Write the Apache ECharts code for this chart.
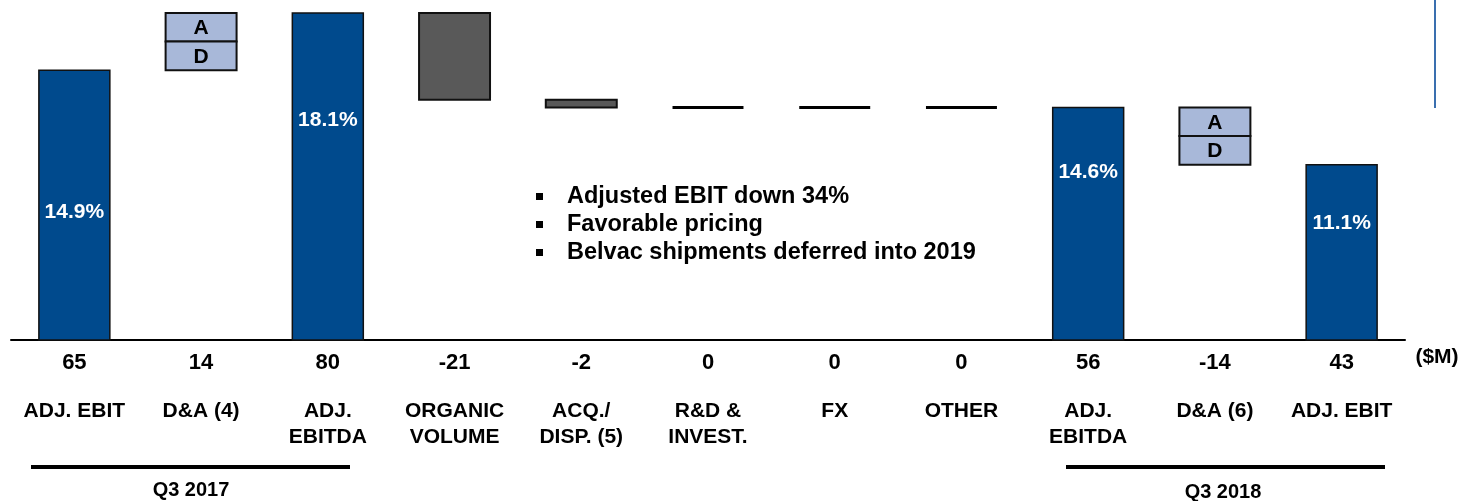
<!DOCTYPE html>
<html>
<head>
<meta charset="utf-8">
<script src="https://cdn.jsdelivr.net/npm/echarts@6/dist/echarts.min.js"></script>
<style>
  html, body { margin: 0; padding: 0; background: #fff; }
  #chart { width: 1463px; height: 501px; }
</style>
</head>
<body>
<div id="chart"></div>
<script>
// categories on the x axis
const categories = ['ADJ. EBIT', 'D&A (4)', 'ADJ.\nEBITDA', 'ORGANIC\nVOLUME', 'ACQ./\nDISP. (5)',
  'R&D &\nINVEST.', 'FX', 'OTHER', 'ADJ.\nEBITDA', 'D&A (6)', 'ADJ. EBIT'];
// printed values under the axis ($M)
const valueLabels = ['65', '14', '80', '-21', '-2', '0', '0', '0', '56', '-14', '43'];
// bar kind: total bars, A/D boxes, step changes
const kinds = ['total', 'ad', 'total', 'step', 'step', 'step', 'step', 'step', 'total', 'ad', 'total'];
// bar sizes as drawn in the picture (steps are deltas, totals are levels)
const barValues = [66, 14, 80, -21.2, -1.9, 0, 0, 0, 56.9, -14, 42.9];
// margin labels inside the total bars
const pctLabels = ['14.9%', '', '18.1%', '', '', '', '', '', '14.6%', '', '11.1%'];
const bullets = ['Adjusted EBIT down 34%', 'Favorable pricing', 'Belvac shipments deferred into 2019'];

// 从各段数值推出每根柱子的上下沿
const lows = [];
const highs = [];
let running = 0;
barValues.forEach((v, i) => {
  if (kinds[i] === 'total') {
    lows.push(0);
    highs.push(v);
    running = v;
  } else {
    const next = running + v;
    lows.push(Math.min(running, next));
    highs.push(Math.max(running, next));
    running = next;
  }
});
const seriesData = categories.map((c, i) => [i, lows[i], highs[i]]);

// pixel offsets of the % labels below each bar top
const pctOffset = [142, 0, 107, 0, 0, 0, 0, 0, 65, 0, 59];

const FONT = "'Liberation Sans', Arial, sans-serif";
const BLUE = '#004A8D';
const GREY = '#595959';
const LIGHT = '#A8B8D9';

function renderItem(params, api) {
  const i = api.value(0);
  const lo = api.coord([i, api.value(1)]);
  const hi = api.coord([i, api.value(2)]);
  const w = api.size([1, 0])[0] * 0.56;
  const x = lo[0] - w / 2;
  const kind = kinds[i];
  const children = [];

  if (kind === 'total') {
    children.push({
      type: 'rect',
      shape: { x: x, y: hi[1], width: w, height: lo[1] - hi[1] },
      style: { fill: BLUE, stroke: '#111', lineWidth: 1.5 }
    });
    children.push({
      type: 'text',
      style: {
        text: pctLabels[i], x: lo[0], y: hi[1] + pctOffset[i],
        fill: '#fff', font: 'bold 21px ' + FONT, align: 'center', verticalAlign: 'middle'
      }
    });
  } else if (kind === 'ad') {
    const mid = (lo[1] + hi[1]) / 2;
    children.push({
      type: 'rect',
      shape: { x: x, y: hi[1], width: w, height: mid - hi[1] },
      style: { fill: LIGHT, stroke: '#111', lineWidth: 2 }
    });
    children.push({
      type: 'rect',
      shape: { x: x, y: mid, width: w, height: lo[1] - mid },
      style: { fill: LIGHT, stroke: '#111', lineWidth: 2 }
    });
    children.push({
      type: 'text',
      style: { text: 'A', x: lo[0], y: (hi[1] + mid) / 2 + 1, fill: '#000', font: 'bold 21px ' + FONT, align: 'center', verticalAlign: 'middle' }
    });
    children.push({
      type: 'text',
      style: { text: 'D', x: lo[0], y: (mid + lo[1]) / 2 + 1, fill: '#000', font: 'bold 21px ' + FONT, align: 'center', verticalAlign: 'middle' }
    });
  } else if (lo[1] - hi[1] < 1) {
    // 零值：画一条黑线
    children.push({
      type: 'line',
      shape: { x1: x, y1: hi[1], x2: x + w, y2: hi[1] },
      style: { stroke: '#000', lineWidth: 3 }
    });
  } else {
    children.push({
      type: 'rect',
      shape: { x: x, y: hi[1], width: w, height: lo[1] - hi[1] },
      style: { fill: GREY, stroke: '#111', lineWidth: 2 }
    });
  }
  return { type: 'group', children: children };
}

const chart = echarts.init(document.getElementById('chart'));

const bulletGraphics = [];
bullets.forEach((b, k) => {
  const y = 196 + k * 28;
  bulletGraphics.push({
    type: 'rect', left: 536, top: y - 3,
    shape: { width: 7, height: 7 }, style: { fill: '#000' }
  });
  bulletGraphics.push({
    type: 'text', x: 567, y: y + 1,
    style: { text: b, font: 'bold 23.5px ' + FONT, fill: '#000', verticalAlign: 'middle' }
  });
});

const option = {
  animation: false,
  grid: { left: 11, right: 58, top: 13, bottom: 161 },
  xAxis: {
    type: 'category',
    data: categories,
    axisTick: { show: false },
    axisLine: { lineStyle: { color: '#000', width: 2 } },
    axisLabel: {
      interval: 0,
      margin: 10,
      formatter: function (value, index) {
        const lines = value.split('\n').map(s => '{n|' + s + '}').join('\n');
        return '{v|' + valueLabels[index] + '}\n{s| }\n' + lines;
      },
      rich: {
        v: { fontFamily: FONT, fontWeight: 'bold', fontSize: 22, lineHeight: 26, color: '#000' },
        s: { fontSize: 10, lineHeight: 22 },
        n: { fontFamily: FONT, fontWeight: 'bold', fontSize: 21, lineHeight: 26, color: '#000' }
      }
    }
  },
  yAxis: { type: 'value', min: 0, max: 80, show: false, splitLine: { show: false } },
  series: [{
    type: 'custom',
    renderItem: renderItem,
    encode: { x: 0, y: [1, 2] },
    data: seriesData
  }],
  graphic: [
    { type: 'line', shape: { x1: 31, y1: 467, x2: 350, y2: 467 }, style: { stroke: '#000', lineWidth: 4 } },
    { type: 'line', shape: { x1: 1066, y1: 467, x2: 1385, y2: 467 }, style: { stroke: '#000', lineWidth: 4 } },
    { type: 'text', x: 191, y: 490, style: { text: 'Q3 2017', font: 'bold 20px ' + FONT, fill: '#000', align: 'center', verticalAlign: 'middle' } },
    { type: 'text', x: 1223, y: 492, style: { text: 'Q3 2018', font: 'bold 20px ' + FONT, fill: '#000', align: 'center', verticalAlign: 'middle' } },
    { type: 'text', x: 1437, y: 357, style: { text: '($M)', font: 'bold 21px ' + FONT, fill: '#000', align: 'center', verticalAlign: 'middle' } },
    { type: 'line', shape: { x1: 1435, y1: 0, x2: 1435, y2: 108 }, style: { stroke: '#3A6FAF', lineWidth: 2 } }
  ].concat(bulletGraphics)
};

chart.setOption(option);
window.addEventListener('resize', function () {
  chart.resize();
});
</script>
</body>
</html>
